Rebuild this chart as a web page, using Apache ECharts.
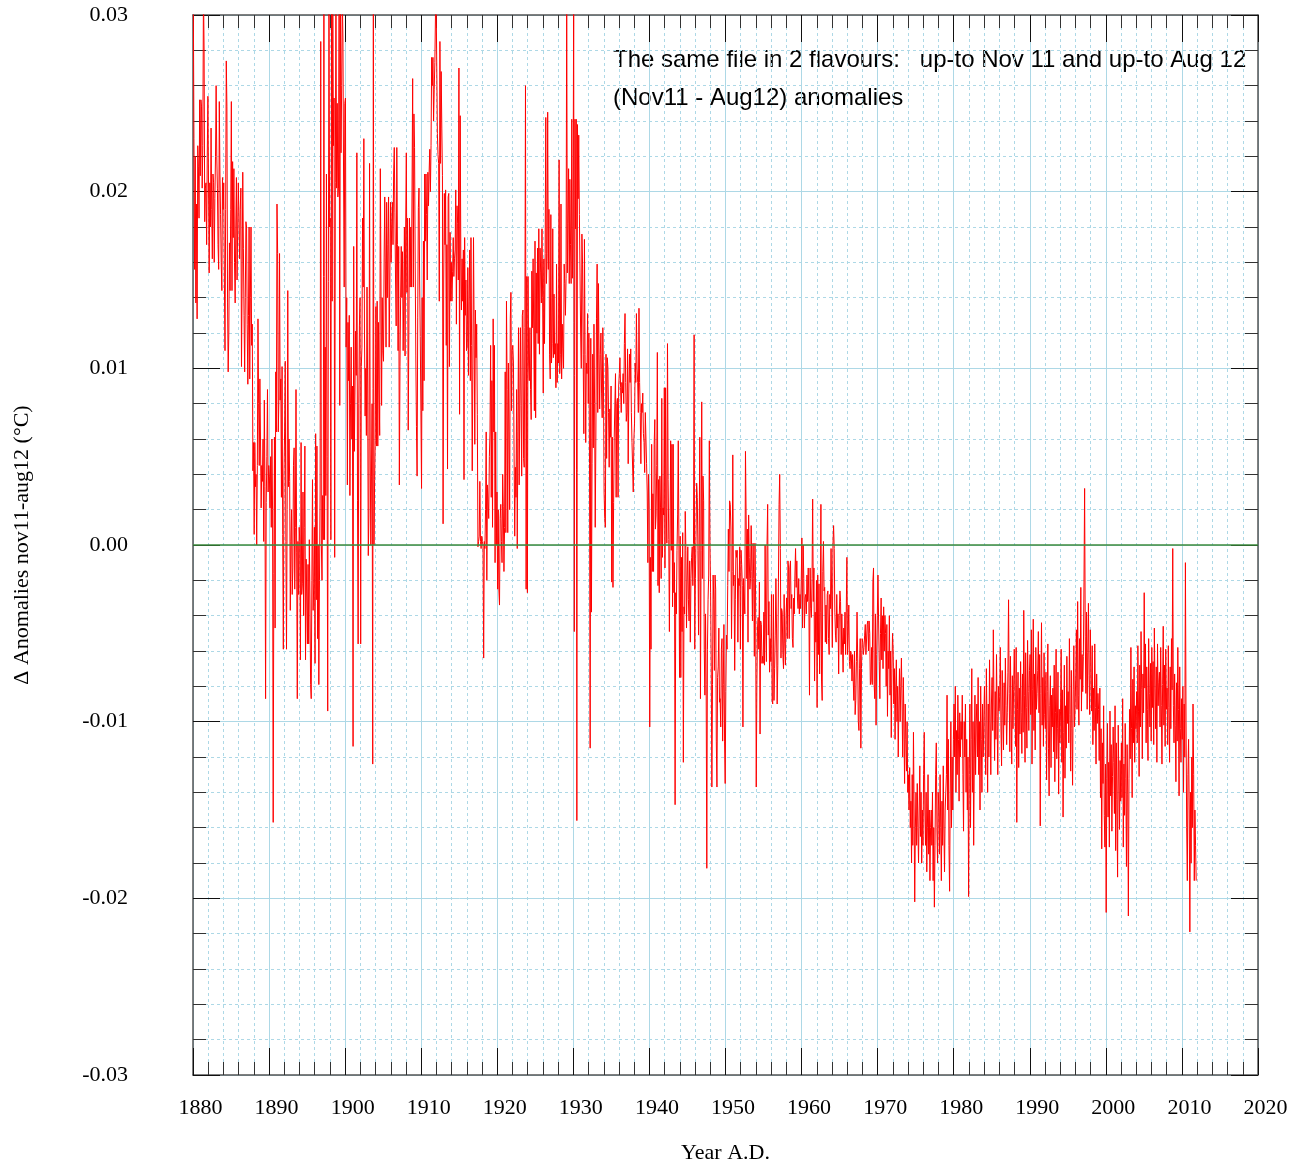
<!DOCTYPE html>
<html><head><meta charset="utf-8">
<script src="https://cdn.jsdelivr.net/npm/echarts@6/dist/echarts.min.js"></script>
<style>html,body{margin:0;padding:0;background:#fff;overflow:hidden}#c{width:1305px;height:1169px}</style>
</head><body><div id="c"></div>
<script>
// Monthly Δ anomalies (°C), Jan 1880 .. Nov 2011, one array per decade
const d1880 = [
.031,.023,.0156,.022,.0137,.0193,.0128,.0226,.0214,.0185,.0252,.0209,
.0252,.0248,.0202,.0226,.0315,.028,.0183,.0202,.0205,.017,.022,.0254,
.0254,.0154,.0205,.018,.0236,.019,.0162,.021,.0205,.016,.0196,.022,
.026,.022,.0202,.017,.0156,.0251,.021,.0187,.016,.0144,.0208,.019,
.0205,.015,.011,.019,.0274,.0248,.0137,.0098,.012,.0171,.0144,.019,
.0251,.0144,.0217,.0174,.0213,.016,.0137,.018,.0208,.015,.018,.0205,
.0205,.0162,.019,.0202,.0101,.015,.0211,.0168,.013,.0098,.014,.0183,
.018,.0125,.0091,.013,.018,.0094,.014,.018,.0113,.0125,.0042,.0058,
.0006,.0058,.0033,.004,0,.0045,.0128,.008,.0045,.0094,.006,.0021,
.0045,.0036,.006,.0002,.0082,.0033,-.0087,.0024,.005,.0088,.003,.0045];
const d1890 = [
.0039,.0021,.005,.001,.006,.002,-.0157,-.0016,.0061,-.0047,.0098,.0064,
.0193,.0165,.0064,.0082,.0165,.0082,.0094,.0027,.0101,.0006,-.0059,.004,
.0064,.0104,.0002,-.0059,.002,.0144,.0033,.006,.0036,-.0037,.0002,.002,
-.0028,-.0013,.0045,.0055,-.0025,.001,.0088,-.0004,-.0087,.0002,-.0028,.001,
.0002,-.0065,.0058,-.0028,-.0022,.003,-.004,.001,.0056,-.0065,-.0008,-.003,
-.0056,-.0011,-.0056,.0003,-.003,-.0079,-.0087,-.002,.0037,-.0037,-.0022,.001,
-.0067,.0063,-.0031,.0056,-.0053,0,-.0079,-.002,.003,.0285,0,-.002,
.0028,.0003,.031,.0003,.0112,.0028,.021,.005,-.0094,.0149,.031,.018,
.0185,.0003,.031,.0138,.031,.0226,.0253,-.0007,.0205,.031,.0202,.025,
.0197,.0202,.031,.0079,.031,.0222,.026,.031,.0287,.021,.0146,.025];
const d1900 = [
.0253,.0112,.014,.0034,.0126,.0093,.013,.0028,.008,.0112,.006,.009,
-.0114,.0169,.0053,.0053,.0121,.0096,.0222,.0025,-.0056,.008,.0124,.014,
-.0056,.0101,.0112,.0185,.0146,.023,.012,.0073,.01,.0062,.0146,.009,
-.0006,.0017,.0216,.0056,0,.0039,.008,-.0124,.031,0,.0037,.006,
.0135,.0056,.0138,.0056,.0126,.009,.0062,.0213,.015,.0079,.014,.011,
.0104,.0163,.0197,.015,.0112,.0194,.014,.017,.0197,.0112,.015,.0194,
.016,.0183,.0194,.017,.021,.0225,.0188,.015,.0124,.0225,.017,.011,
.0169,.0034,.0101,.014,.0169,.014,.0166,.011,.014,.018,.0107,.018,
.0222,.0143,.0185,.0065,.012,.0185,.0146,.018,.0146,.02,.0264,.0146,
.0244,.0225,.016,.0107,.0067,.0039,.0129,.0191,.0202,.015,.0118,.0076];
const d1910 = [
.0032,.014,.0076,.0172,.0093,.021,.0172,.021,.0187,.015,.0211,.0192,
.0211,.0224,.02,.0226,.0276,.026,.0276,.024,.0258,.0273,.03,.031,
.031,.0233,.0221,.0216,.0138,.0285,.0216,.0268,.0236,.0209,.0012,.015,
.0199,.017,.0201,.0113,.017,.0043,.0197,.0199,.0101,.0177,.0138,.016,
.0138,.0155,.0174,.0152,.0162,.0167,.0201,.0125,.0192,.0182,.015,.027,
.0074,.0243,.0162,.0133,.0162,.0138,.0167,.0037,.0174,.013,.015,.011,
.0113,.0157,.0096,.0138,.0167,.0093,.0174,.0113,.0042,.0103,.0174,.012,
.0057,.0133,.0106,.0125,.0074,-.0001,.0002,.0005,.0036,.0002,-.0002,.0005,
.0002,0,-.0064,.0002,-.0002,.002,.0064,-.002,.0034,.0034,.0015,.005,
.0064,.0113,.0027,.0093,.001,.0128,.0064,.0113,-.001,.0064,0,.003];
const d1920 = [
-.0025,.002,-.0025,-.0034,.0015,.0023,.0002,-.001,.004,.0022,-.0015,.001,
.0098,.0007,.0138,.0088,.0007,.0103,.0064,.002,.0128,.0143,.0076,.011,
.0113,.0103,.0052,.0005,.0044,.0027,.0088,-.0002,.0064,.0123,.0034,.008,
.0123,.0079,.0039,.013,.0133,.0049,.0044,.0123,.026,-.0025,.0152,-.0027,
.0152,.0103,.0093,.0123,.0088,.0071,.0155,.0123,.0162,.012,.0076,.0172,
.0072,.0154,.012,.0168,.0114,.0179,.0108,.0168,.0154,.0137,.0179,.014,
.0086,.0162,.0114,.0165,.0242,.0148,.0165,.0245,.0156,.019,.0108,.0094,
.0187,.0103,.0114,.0179,.0106,.0142,.0108,.0114,.0089,.0159,.0092,.0114,
.0103,.0218,.0097,.0108,.0193,.0094,.0125,.0111,.01,.0159,.0148,.013,
.0151,.031,.0154,.0182,.0213,.0148,.0207,.017,.0148,.0241,.0151,.018];
const d1930 = [
.031,-.0049,.0241,.0179,.0241,-.0156,.0238,.0196,.0232,.0187,.0154,.012,
.01,.0176,.0159,.0108,.0063,.0173,.0108,.0058,.0103,.0097,.0131,.008,
.012,.0046,-.0115,.0117,-.0038,.0046,.0108,.0055,.0125,.008,.001,.006,
.0128,.0159,.0075,.0148,.0108,.0077,.0108,.012,.0086,.0072,.0123,.009,
.003,.0015,.001,.0108,.0049,.0106,.01,.0075,.0044,.0077,.0061,.009,
-.0021,.0061,-.0024,.0024,.0061,.008,.0097,.0027,.008,.0083,.0027,.009,
.0097,.0106,.0089,.0075,.0092,.0086,.0097,.008,.0114,.0131,.0092,.007,
.0075,.0111,.0046,.0086,.0108,.0092,.0111,.0075,.0058,.0058,.003,.006,
.0069,.0103,.0092,.0131,.01,.0092,.0075,.0134,.0092,.0075,.0046,.008,
.0075,.0086,.0063,.0058,.0041,.0075,.0075,.0046,.003,-.001,.004,.002];
const d1940 = [
-.0103,-.0007,-.0059,.0057,-.0015,.0029,-.0015,.0057,.0071,.0009,.0017,.0045,
.0109,-.0023,.0037,-.0027,.0039,.0021,-.0019,.0083,-.0007,.0021,.0017,.0089,
-.0013,.0089,.0021,.0001,.0114,.0037,.0003,-.0049,.0009,.0059,-.0003,.0057,
-.0035,.0057,-.0027,-.001,-.0147,-.0027,-.0039,-.0003,.0017,.0059,.0001,-.0075,
.0005,-.0075,-.0007,-.0049,.0007,-.0123,-.0035,-.0039,.0019,-.0003,-.0047,-.002,
-.0001,-.0031,-.0043,-.0009,-.0055,-.0019,-.0007,-.0001,-.0023,.0001,.0119,-.0059,
-.0019,.0005,.0035,.0027,-.0003,-.0051,.0009,.0061,-.0087,-.0003,.0081,-.0019,
.0039,.0025,-.0059,-.0085,-.0039,-.0079,-.0183,-.0059,-.0031,-.0017,.0059,0,
-.0027,-.0069,-.0137,-.0079,-.0017,-.0031,-.0071,-.0017,-.0025,-.0111,-.0137,-.0075,
-.0069,-.0047,-.0089,-.0087,-.0103,-.0059,-.0053,-.0111,-.0079,-.0045,-.0111,-.0135];
const d1950 = [
-.0083,-.0051,-.0059,-.0023,.0009,-.0015,.0025,.0023,.0009,-.0053,-.0015,.0051,
-.0023,-.0017,-.0071,-.0031,-.0003,-.0007,-.0003,-.0055,-.0019,-.0023,-.0001,-.0059,
-.0003,-.0011,-.0023,-.0103,-.0019,-.0019,-.0039,.0053,.0017,-.0019,.0009,-.0055,
.0017,-.0007,-.0025,-.0019,.0011,-.0015,-.0043,.0001,-.0019,-.0063,.0001,-.003,
-.0137,-.0079,-.0047,-.0041,-.0059,-.0021,-.0107,-.0043,-.0045,-.0067,-.0063,-.0067,
-.0038,-.0068,0,-.0047,-.0066,0,.0023,-.0051,-.0032,-.0072,-.0053,-.0066,
-.0028,-.0088,-.009,-.0028,-.0088,-.007,-.0051,-.0019,-.0047,-.009,-.0068,-.0021,
.0023,.004,-.0002,-.0064,-.0036,-.0038,-.0062,-.007,-.0028,-.0056,-.0068,-.004,
-.003,-.0053,-.0009,-.0013,-.0053,-.0013,-.0009,-.0036,-.0028,-.0053,-.0058,-.003,
-.0039,-.0017,-.0002,-.0024,-.0009,-.003,-.0036,-.0019,-.0039,-.0028,-.0036,-.002];
const d1960 = [
.0004,-.0047,0,-.0019,-.0047,-.003,-.0028,-.0039,-.0017,-.0032,-.0013,-.0032,
-.0085,-.0013,-.0036,-.0041,-.0019,.0026,-.0032,-.0013,-.0077,-.0038,-.0055,-.002,
-.0092,-.0017,-.0062,-.0022,-.0073,-.0038,.0023,-.0077,-.0088,-.0015,.0002,-.0026,
-.0024,-.0055,-.0034,-.0056,-.0028,-.0026,-.0053,-.0062,-.0028,-.0036,-.0002,-.003,
-.0058,0,.0011,-.0002,-.0038,-.0051,-.0055,-.0028,-.0047,-.0039,-.0073,-.004,
-.0026,-.0032,-.0062,-.0039,-.0038,-.0072,-.0047,-.0056,-.0038,-.0062,-.0038,-.0007,
-.0062,-.0051,-.0034,-.0066,-.007,-.006,-.0062,-.0077,-.0062,-.0077,-.0088,-.006,
-.0096,-.0088,-.0066,-.0038,-.0064,-.01,-.0105,-.007,-.0053,-.0115,-.007,-.0053,
-.0055,-.0062,-.0058,-.0051,-.0045,-.0062,-.0062,-.0045,-.0043,-.006,-.0043,-.005,
-.0079,-.0077,-.0058,-.0079,-.0021,-.0013,-.0079,-.0087,-.0039,-.0102,-.0062,-.004];
const d1970 = [
-.0017,-.0043,-.0066,-.0087,-.005,-.003,-.0065,-.004,-.007,-.0035,-.006,-.004,
-.005,-.008,-.0045,-.0097,-.006,-.007,-.004,-.0085,-.006,-.0109,-.007,-.005,
-.006,-.009,-.007,-.011,-.008,-.0065,-.01,-.008,-.012,-.009,-.007,-.01,
-.008,-.0064,-.009,-.012,-.0075,-.01,-.0135,-.009,-.011,-.0128,-.01,-.014,
-.013,-.015,-.0126,-.016,-.0145,-.018,-.013,-.017,-.0106,-.015,-.0202,-.016,
-.014,-.017,-.0135,-.016,-.018,-.015,-.0125,-.0165,-.014,-.018,-.015,-.017,
-.013,-.0106,-.015,-.017,-.014,-.0185,-.016,-.013,-.0175,-.015,-.019,-.016,
-.015,-.017,-.014,-.019,-.016,-.0205,-.017,-.013,-.0112,-.016,-.018,-.014,
-.015,-.0175,-.013,-.016,-.019,-.0145,-.017,-.0125,-.016,-.0185,-.015,-.014,
-.013,-.0085,-.015,-.011,-.017,-.0196,-.014,-.01,-.016,-.012,-.015,-.011];
const d1980 = [
-.009,-.012,-.008,-.014,-.0105,-.013,-.0085,-.011,-.0145,-.0095,-.012,-.01,
-.011,-.0085,-.013,-.0162,-.01,-.012,-.009,-.014,-.011,-.015,-.012,-.0199,
-.013,-.009,-.016,-.011,-.007,-.014,-.01,-.017,-.012,-.0085,-.013,-.01,
-.009,-.012,-.0075,-.013,-.01,-.015,-.008,-.011,-.014,-.009,-.012,-.01,
-.008,-.011,-.013,-.007,-.01,-.014,-.009,-.012,-.0065,-.01,-.013,-.009,
-.0075,-.0105,-.0048,-.009,-.0122,-.0083,-.011,-.0062,-.0097,-.013,-.008,-.0094,
-.0086,-.0058,-.0103,-.0125,-.0071,-.0094,-.0116,-.0078,-.0102,-.0064,-.0091,-.0113,
-.0095,-.0072,-.0031,-.0084,-.0117,-.0063,-.0096,-.0124,-.0074,-.0104,-.0082,-.0059,
-.0083,-.0114,-.0058,-.0157,-.0093,-.0072,-.0126,-.0081,-.0107,-.0066,-.0095,-.0118,
-.0073,-.0106,-.0037,-.0085,-.0123,-.0061,-.0092,-.0115,-.0054,-.0083,-.0105,-.0071];
const d1990 = [
-.0062,-.0096,-.0048,-.0124,-.0082,-.0042,-.0105,-.0073,-.0116,-.0058,-.0093,-.0084,
-.0071,-.0049,-.0095,-.0062,-.0159,-.0084,-.0044,-.0102,-.0075,-.0114,-.0061,-.0096,
-.0104,-.0072,-.0133,-.0083,-.0056,-.0115,-.0142,-.0091,-.0074,-.0126,-.0085,-.0103,
-.0081,-.0117,-.0068,-.0134,-.0095,-.0059,-.0121,-.0104,-.0072,-.0141,-.0093,-.0112,
-.0094,-.0059,-.0123,-.0082,-.0154,-.0106,-.0068,-.0132,-.0091,-.0115,-.0063,-.0101,
-.0083,-.0112,-.0053,-.0096,-.0128,-.0071,-.0104,-.0136,-.0082,-.0057,-.0103,-.0092,
-.0074,-.0048,-.0093,-.0032,-.0085,-.0102,-.0053,-.0076,-.0024,-.0094,-.0062,-.0083,
-.0063,-.0021,.0032,-.0052,-.0084,-.0038,-.0093,-.0061,-.0033,-.0074,-.0096,-.0048,
-.0072,-.0094,-.0057,-.0113,-.0081,-.0105,-.0056,-.0092,-.0124,-.0073,-.0101,-.0084,
-.0093,-.0122,-.0081,-.0143,-.0104,-.0172,-.0112,-.0135,-.0091,-.0153,-.0171,-.0124];
const d2000 = [
-.0208,-.0132,-.0101,-.0154,-.0123,-.0171,-.0094,-.0142,-.0113,-.0162,-.0131,-.0103,
-.0123,-.0152,-.0091,-.0173,-.0112,-.0144,-.0188,-.0102,-.0133,-.0161,-.0122,-.0145,
-.0112,-.0143,-.0087,-.0171,-.0124,-.0153,-.0101,-.0132,-.0182,-.0113,-.0141,-.021,
-.0132,-.0093,-.0121,-.0058,-.0104,-.0143,-.0076,-.0112,-.0069,-.0123,-.0091,-.0104,
-.0083,-.0112,-.0057,-.0094,-.0131,-.0068,-.0103,-.0049,-.0082,-.0121,-.0073,-.0095,
-.0027,-.0081,-.0056,-.0112,-.0069,-.0093,-.0122,-.0053,-.0084,-.0103,-.0067,-.0111,
-.0058,-.0092,-.0066,-.0113,-.0047,-.0081,-.0104,-.0069,-.0123,-.0056,-.0091,-.0078,
-.0072,-.0103,-.0058,-.0091,-.0124,-.0079,-.0046,-.0102,-.0068,-.0114,-.0059,-.0093,
-.0081,-.0113,-.0057,-.0092,-.0123,-.0069,-.0104,-.0053,-.0082,-.0002,-.0091,-.0112,
-.0073,-.0102,-.0134,-.0078,-.0111,-.0058,-.0093,-.0142,-.0069,-.0104,-.0123,-.0087];
const d2010 = [
-.011,-.008,-.014,-.009,-.012,-.001,-.01,-.016,-.019,-.013,-.011,-.015,
-.0219,-.014,-.018,-.012,-.016,-.009,-.013,-.019,-.015,-.017,-.019];

const decades = [d1880, d1890, d1900, d1910, d1920, d1930, d1940, d1950, d1960, d1970, d1980, d1990, d2000, d2010];
const firstYear = 1880;
const xRange = [1880, 2020];
const yRange = [-0.03, 0.03];
const annotation1 = 'The same file in 2 flavours:   up-to Nov 11 and up-to Aug 12';
const annotation2 = '(Nov11 - Aug12) anomalies';
const xTitle = 'Year A.D.';
const yTitle = 'Δ Anomalies nov11-aug12 (°C)';

const points = [];
let m = 0;
decades.forEach(function (dec) {
  dec.forEach(function (v) { points.push([firstYear + (m + 0.5) / 12, v]); m++; });
});

// fit the drawing to the real viewport height (design height 1169)
const H = window.innerHeight || 1169;
const sy = H / 1169;
const el = document.getElementById('c');
el.style.height = H + 'px';

const serif = '"Liberation Serif", "Times New Roman", serif';
const sans = '"Liberation Sans", Arial, sans-serif';
const blue = '#add8e6';
const frame = '#555';

function mkX(pos, labels) {
  return {
    type: 'value', min: xRange[0], max: xRange[1], interval: 10, position: pos,
    axisLine: { show: true, onZero: false, lineStyle: { color: frame, width: 1.5 } },
    axisTick: { show: true, inside: true, length: 27 * sy, lineStyle: { color: '#111', width: 1 } },
    minorTick: { show: true, splitNumber: 5, length: 13 * sy, lineStyle: { color: '#333', width: 1 } },
    splitLine: { show: labels, lineStyle: { color: blue, width: 1 } },
    minorSplitLine: { show: labels, lineStyle: { color: blue, width: 1, type: [3, 3] } },
    axisLabel: { show: labels, fontFamily: serif, fontSize: 22, color: '#000', margin: 22 * sy,
      padding: [0, 0, 0, 15],
      formatter: function (v) { return String(Math.round(v)); } },
    name: labels ? xTitle : '', nameLocation: 'middle', nameGap: 67 * sy,
    nameTextStyle: { fontFamily: serif, fontSize: 22, color: '#000' }
  };
}
function mkY(pos, labels) {
  return {
    type: 'value', min: yRange[0], max: yRange[1], interval: 0.01, position: pos,
    axisLine: { show: true, onZero: false, lineStyle: { color: frame, width: 1.5 } },
    axisTick: { show: true, inside: true, length: 27, lineStyle: { color: '#111', width: 1 } },
    minorTick: { show: true, splitNumber: 5, length: 13, lineStyle: { color: '#333', width: 1 } },
    splitLine: { show: labels, lineStyle: { color: blue, width: 1 } },
    minorSplitLine: { show: labels, lineStyle: { color: blue, width: 1, type: [3, 3] } },
    axisLabel: { show: labels, fontFamily: serif, fontSize: 22, color: '#000', margin: 65,
      formatter: function (v) { return Math.abs(v) < 1e-9 ? '0.00' : v.toFixed(2); } },
    name: labels ? yTitle : '', nameLocation: 'middle', nameGap: 160, nameRotate: 90,
    nameTextStyle: { fontFamily: serif, fontSize: 22, color: '#000' }
  };
}

const chart = echarts.init(el, null, { renderer: 'canvas', width: 1305, height: H });
chart.setOption({
  animation: false,
  backgroundColor: '#fff',
  grid: { left: 193, width: 1065, top: 15 * sy, height: 1065 * sy, containLabel: false },
  xAxis: [mkX('bottom', true), mkX('top', false)],
  yAxis: [mkY('left', true), mkY('right', false)],
  series: [{
    type: 'line', data: points, showSymbol: false, symbol: 'none', clip: true,
    lineStyle: { color: '#ff0000', width: 1 }, z: 3,
    markLine: {
      silent: true, symbol: 'none', label: { show: false }, z: 4,
      lineStyle: { color: '#3d8b3d', type: 'solid', width: 1.5 },
      data: [{ yAxis: 0 }]
    }
  }],
  graphic: [
    { type: 'text', left: 613, top: 48 * sy, style: { text: annotation1, font: '24px ' + sans, fill: '#000' } },
    { type: 'text', left: 613, top: 86 * sy, style: { text: annotation2, font: '24px ' + sans, fill: '#000' } }
  ]
});
</script></body></html>
